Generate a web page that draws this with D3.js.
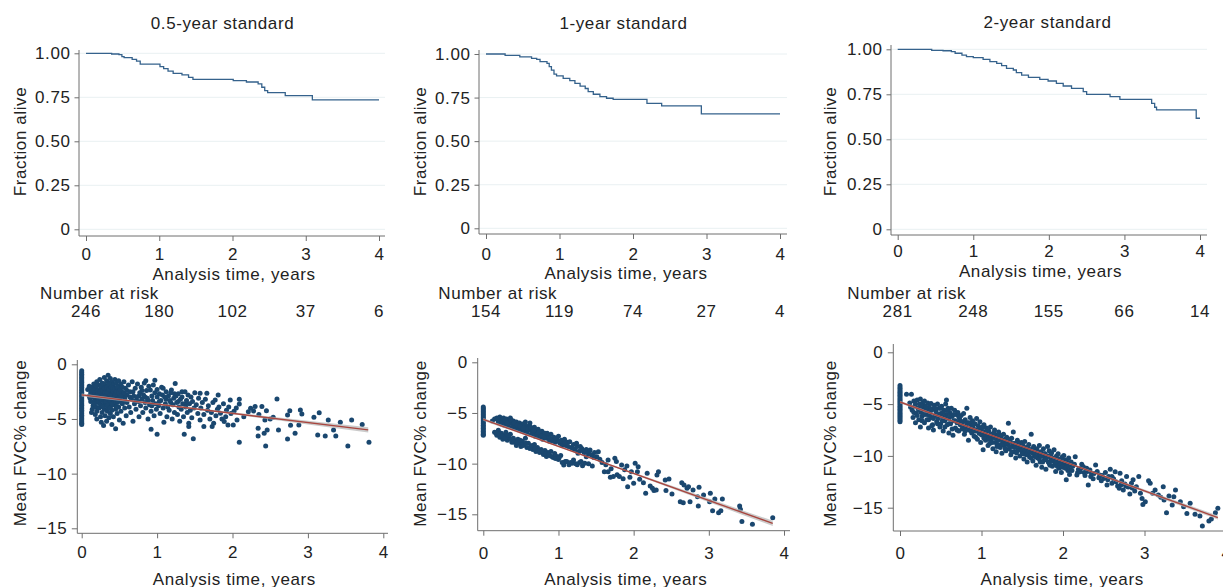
<!DOCTYPE html>
<html>
<head>
<meta charset="utf-8">
<script src="https://cdn.jsdelivr.net/npm/d3@7"></script>
<style>
  body { margin: 0; background: #fff; }
  svg text { font-family: "Liberation Sans", Arial, sans-serif; font-size: 17px; fill: #222; letter-spacing: 0.6px; }
</style>
</head>
<body>
<div id="my_dataviz"></div>
<script>
// ---- data ----
var titles = ["0.5-year standard", "1-year standard", "2-year standard"];
var xTicks = [0, 1, 2, 3, 4];
var kmTicks = [0, 0.25, 0.5, 0.75, 1];
var kmTickLabels = ["0", "0.25", "0.50", "0.75", "1.00"];
var fvcTicks = [0, -5, -10, -15];
var fvcTickLabels = ["0", "\u22125", "\u221210", "\u221215"];

// Kaplan-Meier steps (time, survival)
var kmTime1 = [0, 0.35, 0.45, 0.49, 0.52, 0.63, 0.69, 0.74, 1.01, 1.06, 1.12, 1.19, 1.31, 1.40, 1.46, 2.01, 2.19, 2.35, 2.40, 2.44, 2.48, 2.72, 3.09, 4.0];
var kmSurv1 = [1, 0.996, 0.992, 0.981, 0.975, 0.966, 0.956, 0.939, 0.924, 0.913, 0.899, 0.886, 0.877, 0.863, 0.852, 0.845, 0.837, 0.826, 0.807, 0.788, 0.776, 0.759, 0.735, 0.735];
var kmTime2 = [0, 0.26, 0.46, 0.62, 0.69, 0.735, 0.83, 0.86, 0.89, 0.925, 0.96, 1.05, 1.14, 1.21, 1.28, 1.35, 1.39, 1.46, 1.55, 1.64, 1.73, 2.19, 2.39, 2.93, 4.0];
var kmSurv2 = [1, 0.992, 0.983, 0.975, 0.969, 0.956, 0.946, 0.927, 0.908, 0.885, 0.874, 0.86, 0.847, 0.832, 0.816, 0.802, 0.784, 0.769, 0.755, 0.746, 0.74, 0.717, 0.702, 0.656, 0.656];
var kmTime3 = [0, 0.45, 0.60, 0.71, 0.76, 0.85, 0.91, 1.0, 1.13, 1.22, 1.31, 1.375, 1.44, 1.53, 1.57, 1.64, 1.73, 1.88, 1.99, 2.10, 2.19, 2.30, 2.455, 2.50, 2.81, 2.94, 3.36, 3.40, 3.425, 3.95, 4.0];
var kmSurv3 = [1, 0.994, 0.992, 0.987, 0.978, 0.968, 0.959, 0.954, 0.944, 0.931, 0.922, 0.909, 0.894, 0.885, 0.87, 0.857, 0.844, 0.833, 0.824, 0.811, 0.796, 0.783, 0.765, 0.75, 0.737, 0.722, 0.70, 0.678, 0.663, 0.617, 0.617];

// number at risk at years 0..4
var risk1 = [246, 180, 102, 37, 6];
var risk2 = [154, 119, 74, 27, 4];
var risk3 = [281, 248, 155, 66, 14];

// FVC values at time 0
var zero1 = [-0.6,-0.75,-0.9,-1.05,-1.2,-1.35,-1.5,-1.65,-1.8,-1.95,-2.1,-2.25,-2.4,-2.55,-2.7,-2.85,-3.0,-3.15,-3.3,-3.45,-3.6,-3.75,-3.9,-4.05,-4.2,-4.35,-4.5,-4.65,-4.8,-4.95,-5.1,-5.25,-5.4,-5.5];
var zero2 = [-4.4,-4.55,-4.7,-4.85,-5.0,-5.15,-5.3,-5.45,-5.6,-5.75,-5.9,-6.05,-6.2,-6.35,-6.5,-6.65,-6.8,-6.95,-7.1,-7.2];
var zero3 = [-3.2,-3.4,-3.55,-3.7,-3.85,-4.0,-4.15,-4.3,-4.45,-4.6,-4.75,-4.9,-5.05,-5.2,-5.35,-5.5,-5.65,-5.8,-5.95,-6.1,-6.25,-6.4,-6.55,-6.7];

// FVC% change scatter (time, value)
var fvc1 = [
  [0.08,-2.3],[0.1,-2.0],[0.1,-2.9],[0.12,-3.4],[0.12,-2.6],[0.14,-2.1],[0.14,-4.1],[0.15,-3.0],[0.15,-3.8],[0.13,-4.4],
  [0.16,-1.8],[0.17,-2.5],[0.17,-3.3],[0.18,-4.6],[0.18,-2.2],[0.19,-3.9],[0.19,-2.8],[0.2,-1.6],[0.2,-3.5],[0.2,-4.3],[0.2,-5.0],
  [0.21,-2.4],[0.22,-3.1],[0.22,-1.9],[0.23,-4.0],[0.23,-2.7],[0.24,-1.4],[0.24,-3.6],[0.25,-2.2],[0.25,-4.8],[0.25,-3.0],[0.26,-5.3],
  [0.26,-2.5],[0.27,-1.7],[0.27,-3.8],[0.27,-4.4],[0.28,-2.1],[0.28,-3.3],[0.29,-2.9],[0.29,-5.6],[0.3,-1.2],[0.3,-2.6],[0.3,-3.5],[0.3,-4.1],
  [0.31,-1.9],[0.31,-3.0],[0.31,-4.7],[0.32,-2.3],[0.32,-3.7],[0.33,-1.5],[0.33,-2.8],[0.33,-5.2],[0.34,-3.3],[0.34,-4.3],[0.35,-1.0],
  [0.35,-2.0],[0.35,-2.5],[0.35,-3.9],[0.36,-3.1],[0.36,-4.9],[0.37,-1.7],[0.37,-2.7],[0.37,-3.5],[0.38,-2.2],[0.38,-4.5],[0.38,-1.3],
  [0.39,-3.0],[0.39,-3.8],[0.4,-2.4],[0.4,-1.6],[0.4,-4.2],[0.4,-5.5],
  [0.41,-2.9],[0.41,-3.4],[0.42,-1.9],[0.42,-4.8],[0.43,-2.6],[0.43,-3.7],[0.44,-1.4],[0.44,-3.1],[0.45,-2.2],[0.45,-4.1],[0.45,-5.9],
  [0.46,-2.8],[0.46,-1.7],[0.47,-3.5],[0.47,-4.5],[0.48,-2.4],[0.48,-3.0],[0.49,-1.5],[0.49,-3.9],[0.5,-2.7],[0.5,-5.1],[0.5,-2.0],
  [0.51,-3.3],[0.52,-1.8],[0.52,-4.3],[0.53,-2.5],[0.54,-3.6],[0.55,-2.9],[0.55,-5.4],[0.56,-1.6],[0.57,-3.1],[0.57,-4.0],[0.58,-2.2],
  [0.59,-4.7],[0.6,-2.8],[0.6,-3.5],
  [0.11,-3.1],[0.13,-2.4],[0.16,-2.9],[0.16,-3.6],[0.18,-3.0],[0.19,-2.0],[0.21,-3.4],[0.22,-2.7],[0.23,-3.3],[0.24,-2.5],[0.26,-3.2],
  [0.26,-2.0],[0.27,-2.9],[0.28,-2.4],[0.28,-3.9],[0.29,-1.8],[0.29,-3.1],[0.3,-2.2],[0.31,-2.6],[0.32,-3.4],[0.32,-2.9],[0.33,-2.1],
  [0.34,-2.6],[0.34,-3.8],[0.35,-3.2],[0.36,-2.3],[0.36,-1.8],[0.37,-3.1],[0.37,-4.0],[0.38,-2.8],[0.38,-3.4],[0.39,-2.1],[0.4,-2.8],
  [0.4,-3.6],[0.41,-2.2],[0.42,-3.1],[0.42,-2.5],[0.43,-3.3],[0.44,-2.3],[0.44,-2.8],[0.45,-3.5],[0.46,-2.5],[0.46,-3.9],[0.47,-2.1],
  [0.48,-3.4],[0.49,-2.6],[0.5,-3.1],[0.51,-2.3],[0.52,-2.9],[0.53,-3.5],[0.54,-2.1],[0.56,-2.6],[0.58,-3.4],[0.6,-2.4],[0.64,-3.0],
  [0.68,-2.5],[0.72,-3.3],[0.76,-2.9],[0.8,-2.4],[0.84,-3.0],[0.88,-3.3],[0.93,-3.8],[1.03,-3.4],[1.07,-2.8],[1.12,-3.2],[1.18,-3.5],
  [1.23,-2.7],[1.28,-3.4],[1.33,-3.0],[1.38,-3.6],
  [0.62,-1.9],[0.63,-3.9],[0.64,-2.5],[0.65,-4.4],[0.66,-3.2],[0.67,-1.6],[0.68,-5.2],[0.69,-2.9],[0.7,-3.6],[0.71,-2.2],[0.72,-4.1],
  [0.73,-3.0],[0.74,-1.8],[0.75,-3.4],[0.76,-4.8],[0.77,-2.6],[0.78,-3.8],[0.79,-2.1],[0.8,-3.2],[0.81,-4.4],[0.82,-2.8],[0.83,-1.7],
  [0.84,-3.5],[0.85,-1.5],[0.85,-4.0],[0.86,-2.4],[0.87,-3.1],[0.88,-5.0],[0.89,-2.0],[0.9,-3.7],[0.91,-2.35],[0.92,-4.3],[0.92,-5.95],
  [0.93,-2.9],[0.94,-3.3],[0.95,-1.9],[0.96,-4.7],[0.97,-1.45],[0.97,-2.6],[0.98,-3.6],[0.99,-4.1],[1.0,-2.3],[1.0,-6.4],[1.0,-3.0],
  [1.02,-3.8],[1.03,-2.7],[1.04,-4.5],[1.05,-3.3],[1.06,-2.1],[1.08,-2.2],[1.08,-4.0],[1.09,-5.3],[1.1,-3.0],[1.11,-3.6],[1.12,-2.5],
  [1.13,-4.8],[1.14,-3.9],[1.15,-2.9],[1.16,-4.2],[1.17,-3.3],[1.18,-2.6],[1.19,-2.35],[1.2,-5.0],[1.21,-3.7],[1.22,-3.1],[1.23,-4.4],
  [1.24,-1.75],[1.25,-2.9],[1.26,-3.5],[1.27,-4.6],[1.28,-2.7],[1.29,-3.9],[1.3,-5.2],[1.31,-3.2],[1.32,-4.1],[1.33,-2.5],[1.34,-3.6],
  [1.35,-4.8],[1.36,-6.4],[1.37,-2.5],[1.38,-3.9],[1.39,-3.3],[1.4,-4.4],[1.41,-2.8],[1.42,-5.4],[1.42,-5.7],[1.43,-3.6],[1.44,-4.2],
  [1.45,-3.0],[1.46,-4.9],[1.47,-3.4],[1.48,-6.8],[1.49,-4.0],[1.5,-2.6],
  [1.52,-3.7],[1.54,-4.5],[1.55,-3.1],[1.57,-2.65],[1.57,-5.1],[1.58,-4.0],[1.6,-3.5],[1.62,-5.7],[1.62,-4.6],[1.64,-3.2],[1.66,-2.65],
  [1.67,-4.2],[1.68,-3.8],[1.7,-5.0],[1.72,-4.4],[1.73,-5.7],[1.74,-3.5],[1.75,-5.4],[1.77,-3.26],[1.78,-4.7],[1.8,-4.1],[1.81,-2.8],
  [1.82,-3.9],[1.84,-4.48],[1.86,-5.0],[1.88,-3.6],[1.89,-5.24],[1.91,-4.8],[1.92,-4.2],[1.94,-5.55],[1.95,-3.9],[1.97,-3.26],[1.98,-4.5],
  [2.01,-5.55],[2.02,-4.3],[2.05,-4.0],[2.06,-5.1],[2.09,-3.2],[2.09,-3.63],[2.09,-7.13],
  [2.15,-4.8],[2.21,-4.33],[2.24,-4.02],[2.28,-4.27],[2.3,-3.87],[2.34,-5.85],[2.34,-6.55],[2.35,-4.6],[2.39,-3.87],[2.42,-6.3],[2.43,-5.1],
  [2.44,-7.47],[2.45,-4.24],[2.46,-6.0],[2.5,-5.0],[2.54,-4.85],[2.59,-3.17],[2.61,-6.0],[2.73,-4.63],[2.73,-6.83],[2.76,-4.24],[2.77,-5.58],
  [2.83,-6.3],[2.88,-5.55],[2.9,-4.18],[2.92,-4.54],[3.08,-4.85],[3.13,-6.46],[3.15,-4.42],[3.23,-6.55],[3.27,-5.1],[3.34,-6.0],[3.37,-6.55],
  [3.43,-5.3],[3.53,-7.47],[3.58,-5.1],[3.72,-5.5],[3.81,-7.13]
];
var fvc2 = [
  [0.12,-5.8],[0.15,-5.6],[0.18,-5.5],[0.2,-5.9],[0.22,-5.4],[0.24,-6.1],[0.25,-5.7],[0.27,-5.5],[0.28,-6.2],[0.3,-5.9],[0.31,-5.6],
  [0.33,-6.3],[0.34,-5.8],[0.35,-6.0],[0.36,-5.5],[0.38,-6.4],[0.39,-6.1],[0.4,-5.8],[0.42,-6.5],[0.43,-6.2],[0.44,-5.9],[0.46,-6.6],
  [0.47,-6.3],[0.48,-6.0],[0.5,-6.7],[0.51,-6.4],[0.52,-6.1],[0.54,-6.8],[0.55,-6.2],[0.56,-5.9],[0.57,-6.5],[0.58,-7.0],[0.6,-6.3],
  [0.61,-6.7],[0.62,-6.0],[0.64,-7.1],[0.65,-6.5],[0.66,-6.9],[0.68,-6.4],[0.69,-7.3],[0.7,-6.8],[0.72,-7.0],[0.73,-6.6],[0.75,-7.4],
  [0.76,-7.1],[0.78,-6.8],[0.79,-7.6],[0.8,-7.2],[0.82,-7.0],[0.84,-7.5],[0.86,-7.3],[0.88,-7.8],[0.9,-7.1],[0.92,-7.6],[0.94,-7.4],
  [0.96,-7.9],[0.98,-7.6],[1.0,-7.3],[1.02,-8.0],[1.04,-7.7],[1.06,-7.99],[1.08,-7.6],[1.1,-8.2],[1.12,-7.9],[1.15,-7.83],[1.17,-8.4],
  [1.2,-8.1],[1.22,-8.6],[1.25,-8.3],[1.27,-8.8],[1.29,-8.32],[1.31,-8.5],[1.34,-8.9],[1.37,-8.6],[1.4,-9.0],[1.42,-8.65],[1.45,-9.2],
  [1.48,-8.9],[1.51,-9.31],[1.53,-8.82],[1.55,-9.57],
  [0.2,-5.6],[0.26,-5.9],[0.29,-5.7],[0.32,-6.0],[0.37,-5.7],[0.41,-6.0],[0.45,-6.2],[0.49,-6.3],[0.53,-6.5],[0.59,-6.6],[0.63,-6.4],
  [0.67,-6.7],[0.71,-7.2],[0.74,-6.9],[0.77,-7.3],[0.81,-7.4],[0.85,-7.0],[0.89,-7.5],[0.93,-7.8],[0.97,-7.5],[1.01,-7.8],[1.05,-8.2],
  [1.09,-8.0],[1.13,-8.3],[1.19,-8.5],[1.24,-8.0],[1.3,-8.7],[1.36,-8.8],[1.43,-9.1],[1.47,-9.4],
  [0.15,-6.9],[0.18,-7.2],[0.2,-6.7],[0.22,-7.4],[0.24,-7.0],[0.26,-7.6],[0.28,-7.2],[0.3,-6.9],[0.32,-7.7],[0.34,-7.4],[0.36,-7.1],
  [0.38,-7.9],[0.4,-7.5],[0.42,-7.8],[0.44,-8.2],[0.46,-7.6],[0.48,-8.0],[0.5,-8.3],[0.52,-7.8],[0.54,-8.1],[0.56,-7.5],[0.58,-8.4],
  [0.6,-8.0],[0.63,-8.3],[0.66,-8.6],[0.68,-8.1],[0.7,-8.8],[0.72,-8.4],[0.75,-8.9],[0.77,-8.6],[0.8,-9.1],[0.82,-8.7],[0.84,-9.3],
  [0.86,-8.9],[0.88,-9.2],[0.9,-8.8],[0.93,-9.4],[0.95,-9.0],[0.98,-9.3],[1.0,-9.6],[1.03,-9.2],[1.07,-10.13],[1.09,-9.8],[1.11,-9.8],
  [1.14,-10.1],[1.18,-9.97],[1.2,-9.64],[1.23,-10.0],[1.26,-8.98],[1.28,-9.9],[1.32,-10.2],[1.35,-9.97],[1.37,-9.31],[1.4,-10.0],[1.45,-10.23],
  [0.17,-7.0],[0.21,-7.1],[0.25,-7.3],[0.29,-7.5],[0.33,-7.2],[0.37,-7.6],[0.41,-7.9],[0.45,-7.9],[0.49,-7.7],[0.53,-8.2],[0.57,-8.0],
  [0.62,-8.5],[0.65,-8.2],[0.69,-8.5],[0.73,-8.7],[0.78,-8.8],[0.83,-9.0],[0.87,-9.1],[0.91,-9.3],[0.96,-9.5],[1.01,-9.4],[1.05,-9.9],
  [1.16,-9.9],[1.25,-10.1],[1.3,-9.8],
  [1.58,-9.9],[1.63,-10.1],[1.7,-10.5],[1.78,-11.1],[1.86,-11.5],[1.88,-10.6],[1.97,-10.8],
  [1.61,-10.79],[1.66,-9.64],[1.66,-10.79],[1.69,-11.35],[1.73,-11.28],[1.75,-9.47],[1.77,-9.8],[1.81,-11.28],[1.84,-10.13],[1.91,-10.23],
  [1.92,-12.27],[1.95,-11.35],[2.0,-11.94],[2.02,-9.97],[2.05,-10.79],[2.06,-10.3],[2.08,-11.55],[2.13,-11.88],[2.16,-12.93],[2.18,-10.95],
  [2.22,-12.2],[2.25,-12.43],[2.27,-12.66],[2.3,-12.6],[2.31,-11.12],[2.33,-10.79],[2.42,-11.61],[2.43,-12.66],[2.47,-11.51],[2.51,-12.99],
  [2.62,-13.75],[2.64,-11.88],[2.66,-13.85],[2.67,-12.1],[2.71,-12.43],[2.73,-12.27],[2.75,-13.75],[2.79,-12.6],[2.85,-13.26],[2.86,-14.18],
  [2.87,-12.34],[2.93,-13.09],[3.01,-13.75],[3.02,-12.93],[3.05,-14.64],[3.08,-13.49],[3.13,-14.84],[3.16,-14.64],[3.18,-13.49],
  [3.41,-14.18],[3.42,-14.5],[3.44,-15.72],[3.58,-15.99],[3.85,-15.33]
];
var fvc3 = [
  [0.08,-4.05],[0.12,-4.9],[0.14,-4.05],[0.15,-5.6],[0.16,-6.3],[0.17,-4.7],[0.18,-5.2],[0.19,-6.8],[0.2,-5.9],[0.21,-4.6],[0.22,-5.4],
  [0.23,-6.5],[0.24,-5.0],[0.25,-4.5],[0.25,-7.2],[0.26,-5.8],[0.27,-6.2],[0.28,-4.9],[0.29,-5.5],[0.3,-6.8],[0.3,-4.7],
  [0.31,-5.2],[0.32,-6.0],[0.33,-5.6],[0.34,-4.9],[0.35,-6.5],[0.35,-7.3],[0.36,-5.3],[0.37,-5.9],[0.38,-4.95],[0.39,-6.3],[0.4,-5.5],
  [0.4,-7.0],[0.41,-7.5],[0.42,-5.1],[0.43,-6.1],[0.44,-5.7],[0.45,-6.7],[0.46,-5.0],[0.47,-6.4],[0.48,-5.4],[0.49,-7.2],[0.5,-5.9],
  [0.5,-6.9],[0.51,-5.2],[0.52,-6.2],[0.53,-7.6],[0.54,-5.6],[0.55,-6.6],[0.56,-5.0],[0.57,-4.6],[0.57,-6.0],[0.58,-7.0],[0.59,-5.4],
  [0.6,-6.4],[0.6,-7.8],
  [0.61,-5.8],[0.62,-6.9],[0.63,-5.4],[0.64,-6.2],[0.65,-8.0],[0.66,-6.6],[0.67,-5.6],[0.68,-7.3],[0.69,-6.0],[0.7,-6.8],[0.71,-5.8],
  [0.72,-7.6],[0.73,-6.4],[0.74,-7.0],[0.75,-6.1],[0.76,-7.4],[0.77,-6.7],[0.78,-5.9],[0.79,-7.9],[0.8,-6.5],[0.81,-7.2],[0.82,-5.4],
  [0.83,-6.8],[0.84,-8.5],[0.85,-7.5],[0.86,-6.3],[0.87,-7.0],[0.88,-7.8],[0.89,-6.6],[0.9,-7.3],
  [0.91,-8.1],[0.92,-6.9],[0.93,-7.6],[0.94,-6.4],[0.95,-8.4],[0.96,-7.1],[0.97,-7.8],[0.98,-6.7],[0.99,-8.7],[1.0,-7.4],[1.01,-8.0],
  [1.02,-9.4],[1.03,-7.0],[1.04,-7.7],[1.05,-8.5],[1.06,-7.3],[1.07,-8.2],[1.08,-9.0],[1.09,-7.6],[1.1,-8.8],[1.11,-7.2],[1.12,-8.4],
  [1.13,-7.9],[1.14,-9.3],[1.15,-8.1],[1.16,-7.5],[1.17,-8.7],[1.18,-9.6],[1.19,-8.0],[1.2,-8.9],
  [1.21,-7.7],[1.22,-8.4],[1.23,-9.2],[1.24,-8.1],[1.25,-9.75],[1.26,-8.7],[1.27,-7.9],[1.28,-9.0],[1.29,-8.4],[1.3,-9.5],[1.31,-8.2],
  [1.32,-8.9],[1.33,-6.85],[1.34,-9.3],[1.35,-8.6],[1.36,-9.9],[1.37,-8.3],[1.38,-9.1],[1.39,-7.7],[1.4,-9.6],[1.41,-8.8],[1.42,-10.2],
  [1.43,-9.0],[1.44,-8.5],[1.45,-9.4],[1.46,-8.9],[1.47,-10.0],[1.48,-9.2],[1.49,-8.7],[1.5,-9.7],
  [1.51,-9.0],[1.52,-10.3],[1.53,-8.6],[1.54,-9.5],[1.55,-9.2],[1.56,-10.6],[1.57,-9.8],[1.58,-8.9],[1.59,-10.1],[1.6,-9.4],[1.61,-7.9],
  [1.62,-9.7],[1.63,-10.5],[1.64,-9.1],[1.65,-10.0],[1.66,-9.5],[1.67,-10.9],[1.68,-9.3],[1.69,-10.2],[1.7,-9.8],[1.71,-9.0],[1.72,-10.6],
  [1.73,-9.6],[1.74,-11.1],[1.75,-10.0],[1.76,-9.3],[1.77,-10.4],[1.78,-9.8],[1.79,-11.3],[1.8,-10.1],
  [1.81,-9.1],[1.82,-10.6],[1.83,-9.5],[1.84,-10.9],[1.85,-10.2],[1.86,-9.7],[1.87,-11.0],[1.88,-10.4],[1.89,-9.4],[1.9,-10.8],[1.91,-11.5],
  [1.92,-10.0],[1.93,-10.6],[1.94,-9.8],[1.95,-11.2],[1.96,-10.3],[1.97,-10.9],[1.98,-11.6],[1.99,-10.1],[2.0,-10.7],[2.01,-9.95],
  [2.02,-11.1],[2.03,-10.4],[2.04,-12.3],[2.05,-10.9],[2.06,-11.4],[2.07,-10.2],[2.08,-11.8],[2.09,-11.36],[2.1,-10.6],
  [0.13,-5.3],[0.17,-5.8],[0.19,-5.0],[0.21,-6.1],[0.23,-5.6],[0.26,-5.2],[0.27,-6.6],[0.29,-6.0],[0.32,-5.3],[0.33,-6.5],[0.36,-6.1],
  [0.38,-5.6],[0.39,-7.1],[0.41,-6.4],[0.43,-5.4],[0.45,-5.9],[0.46,-6.9],[0.48,-6.1],[0.5,-5.4],[0.52,-6.6],[0.53,-5.8],[0.55,-7.2],
  [0.56,-6.3],[0.58,-5.6],[0.6,-6.9],[0.62,-6.1],[0.64,-7.4],[0.66,-6.0],[0.68,-6.6],[0.7,-7.5],[0.72,-6.2],[0.74,-6.6],[0.76,-6.9],
  [0.78,-7.2],[0.8,-7.6],[0.82,-6.9],[0.85,-6.8],[0.87,-7.6],[0.89,-7.1],[0.91,-7.6],[0.93,-8.2],[0.95,-7.5],[0.97,-7.3],[0.99,-7.9],
  [1.01,-7.2],[1.03,-8.3],[1.05,-7.9],[1.07,-7.6],[1.09,-8.4],[1.11,-8.0],[1.13,-8.7],[1.15,-7.8],[1.17,-8.3],[1.19,-9.1],[1.21,-8.5],
  [1.23,-8.0],[1.25,-8.9],[1.27,-8.5],[1.29,-9.3],[1.31,-8.8],[1.33,-8.4],[1.35,-9.1],[1.37,-9.6],[1.39,-8.8],[1.41,-9.2],[1.43,-9.7],
  [1.45,-8.7],[1.47,-9.1],[1.49,-9.5],[1.51,-9.8],[1.53,-9.4],[1.55,-9.9],[1.57,-9.2],[1.59,-9.6],[1.61,-10.2],[1.63,-9.3],[1.65,-9.7],
  [1.67,-10.1],[1.69,-9.6],[1.71,-10.3],[1.73,-10.0],[1.75,-10.6],[1.77,-9.8],[1.79,-10.3],[1.81,-10.0],[1.83,-10.7],[1.85,-9.9],
  [1.87,-10.5],[1.89,-10.2],[1.91,-10.6],[1.93,-11.0],[1.95,-10.4],[1.97,-10.7],[1.99,-11.1],[2.01,-10.5],[2.03,-11.2],[2.05,-10.6],
  [2.07,-11.0],[2.11,-11.4],[2.14,-10.8],[2.18,-11.6],[2.22,-11.2],[2.26,-11.6],[2.3,-11.5],[2.34,-12.0],[2.38,-11.7],[2.44,-12.1],
  [2.48,-11.9],[2.55,-12.3],[2.6,-12.0],[2.65,-12.5],[2.71,-12.8],[2.77,-12.9],[2.85,-13.1],
  [2.12,-11.0],[2.15,-10.07],[2.17,-11.84],[2.19,-11.3],[2.21,-11.52],[2.23,-10.8],[2.25,-11.04],[2.27,-11.9],[2.29,-11.2],[2.31,-12.81],
  [2.33,-11.36],[2.35,-11.7],[2.37,-12.2],[2.4,-10.88],[2.42,-11.5],[2.45,-11.84],[2.47,-12.4],[2.5,-12.17],[2.52,-11.6],[2.54,-12.8],
  [2.56,-12.0],[2.58,-11.3],[2.6,-12.65],[2.62,-12.2],[2.64,-11.52],[2.67,-12.9],[2.69,-13.13],[2.7,-11.68],[2.72,-12.4],[2.74,-13.3],
  [2.76,-12.71],[2.78,-12.0],[2.8,-13.0],[2.82,-13.68],[2.84,-12.65],[2.86,-12.3],[2.88,-13.4],[2.9,-12.97],[2.93,-12.0],[2.95,-13.6],
  [2.97,-14.1],[2.98,-14.68],
  [3.01,-14.42],[3.05,-12.39],[3.07,-12.65],[3.1,-13.6],[3.13,-13.29],[3.17,-13.78],[3.2,-14.0],[3.23,-12.97],[3.24,-14.26],[3.27,-15.48],
  [3.3,-13.87],[3.34,-14.74],[3.36,-13.94],[3.38,-13.29],[3.44,-14.42],[3.48,-14.9],[3.52,-15.55],[3.56,-14.58],[3.62,-15.64],[3.68,-15.8],
  [3.71,-16.77],[3.79,-16.29],[3.82,-16.09],[3.87,-15.48],[3.9,-15.06]
];

// linear fit: end points and CI half-width at x = 0,1,2,3,end
var fitX1 = [0, 3.8],  fitY1 = [-2.8, -6.0],   ciHalf1 = [0.14, 0.07, 0.09, 0.17, 0.24];
var fitX2 = [0, 3.85], fitY2 = [-5.63, -15.9], ciHalf2 = [0.14, 0.07, 0.09, 0.18, 0.26];
var fitX3 = [0, 3.9],  fitY3 = [-4.8, -15.95], ciHalf3 = [0.12, 0.06, 0.07, 0.13, 0.2];

// ---- layout (pixels) ----
var kmLayout = [
  {ax: 79,  right: 385,  top: 50, bot: 236, xr: [86, 379],     yr: [229.3, 53.3], title: [222.5, 29],  tickBase: 259.5, xTitle: [234, 280],  narX: 40,    ylab: [26, 141.5]},
  {ax: 479, right: 787,  top: 50, bot: 234, xr: [486, 780],    yr: [228.3, 54],   title: [623.5, 29],  tickBase: 259.5, xTitle: [626, 278.5], narX: 438.3, ylab: [426, 141.5]},
  {ax: 891, right: 1207, top: 45, bot: 235, xr: [897.7, 1200], yr: [229.3, 49.3], title: [1047.5, 28], tickBase: 257,   xTitle: [1040.5, 277], narX: 847.3, ylab: [836, 141.5]}
];
var scLayout = [
  {ax: 77.3,  right: 388,  top: 360, bot: 533.3, xr: [81.7, 383.3], yr: [528.3, 364.3], tickBase: 558.3, xTitle: [234.3, 584.5],  ylab: [26, 443]},
  {ax: 477.7, right: 790,  top: 358, bot: 530.7, xr: [483.3, 784],  yr: [514.3, 362.3], tickBase: 559,   xTitle: [625.8, 584.5],  ylab: [426, 443.5]},
  {ax: 893.3, right: 1230, top: 344, bot: 531,   xr: [900, 1226],   yr: [507.7, 352.3], tickBase: 559,   xTitle: [1062.2, 584.5], ylab: [836, 443.5]}
];

var navy = "#1a476f";

var svg = d3.select("#my_dataviz")
  .append("svg")
    .attr("width", 1223)
    .attr("height", 587);

function styleAxis(g) {
  g.attr("font-size", null).attr("font-family", null).attr("color", "#6e6e6e");
  g.selectAll(".tick line").attr("stroke-width", 1);
}

// Kaplan-Meier panels
var kmTimes = [kmTime1, kmTime2, kmTime3];
var kmSurvs = [kmSurv1, kmSurv2, kmSurv3];
var risks = [risk1, risk2, risk3];

kmLayout.forEach(function(L, i) {
  var x = d3.scaleLinear().domain([0, 4]).range(L.xr);
  var y = d3.scaleLinear().domain([0, 1]).range(L.yr);
  var g = svg.append("g");

  // light grid
  g.selectAll(".grid").data(kmTicks).join("line")
    .attr("x1", L.ax).attr("x2", L.right)
    .attr("y1", d => y(d)).attr("y2", d => y(d))
    .attr("stroke", "#e9f0f2").attr("stroke-width", 1);

  var yAxis = g.append("g")
    .attr("transform", "translate(" + L.ax + ",0)")
    .call(d3.axisLeft(y).tickValues(kmTicks).tickFormat((d, j) => kmTickLabels[j]).tickSize(4.5).tickPadding(4));
  yAxis.select(".domain").attr("d", "M0," + L.top + "V" + L.bot);
  styleAxis(yAxis);

  var xAxis = g.append("g")
    .attr("transform", "translate(0," + L.bot + ")")
    .call(d3.axisBottom(x).tickValues(xTicks).tickFormat(d3.format("d")).tickSize(5));
  xAxis.select(".domain").attr("d", "M" + L.ax + ",0H" + L.right);
  xAxis.selectAll("text").attr("dy", null).attr("y", L.tickBase - L.bot);
  styleAxis(xAxis);

  var steps = kmTimes[i].map((t, j) => [t, kmSurvs[i][j]]);
  g.append("path")
    .datum(steps)
    .attr("fill", "none")
    .attr("stroke", "#35628c")
    .attr("stroke-width", 1.3)
    .attr("d", d3.line().curve(d3.curveStepAfter).x(d => x(d[0])).y(d => y(d[1])));

  g.append("text").attr("x", L.title[0]).attr("y", L.title[1])
    .attr("text-anchor", "middle").text(titles[i]);
  g.append("text").attr("x", L.xTitle[0]).attr("y", L.xTitle[1])
    .attr("text-anchor", "middle").text("Analysis time, years");
  g.append("text")
    .attr("transform", "translate(" + L.ylab[0] + "," + L.ylab[1] + ") rotate(-90)")
    .attr("text-anchor", "middle").text("Fraction alive");

  g.append("text").attr("x", L.narX).attr("y", 298.5).text("Number at risk");
  g.selectAll(".risk").data(risks[i]).join("text")
    .attr("x", (d, j) => x(xTicks[j]))
    .attr("y", 316.5)
    .attr("text-anchor", "middle")
    .text(d => d);
});

// FVC scatter panels
var zeros = [zero1, zero2, zero3];
var fvcs = [fvc1, fvc2, fvc3];
var fitXs = [fitX1, fitX2, fitX3], fitYs = [fitY1, fitY2, fitY3], ciHalfs = [ciHalf1, ciHalf2, ciHalf3];

scLayout.forEach(function(L, i) {
  var x = d3.scaleLinear().domain([0, 4]).range(L.xr);
  var y = d3.scaleLinear().domain([-15, 0]).range(L.yr);
  var g = svg.append("g");

  var yAxis = g.append("g")
    .attr("transform", "translate(" + L.ax + ",0)")
    .call(d3.axisLeft(y).tickValues(fvcTicks).tickFormat((d, j) => fvcTickLabels[j]).tickSize(5.5).tickPadding(4.5));
  yAxis.select(".domain").attr("d", "M0," + L.top + "V" + L.bot);
  styleAxis(yAxis);

  var xAxis = g.append("g")
    .attr("transform", "translate(0," + L.bot + ")")
    .call(d3.axisBottom(x).tickValues(xTicks).tickFormat(d3.format("d")).tickSize(5));
  xAxis.select(".domain").attr("d", "M" + L.ax + ",0H" + L.right);
  xAxis.selectAll("text").attr("dy", null).attr("y", L.tickBase - L.bot);
  styleAxis(xAxis);

  var pts = zeros[i].map(v => [0, v]).concat(fvcs[i]);
  g.selectAll(".dot").data(pts).join("circle")
    .attr("cx", d => x(d[0]))
    .attr("cy", d => y(d[1]))
    .attr("r", 2.5)
    .attr("fill", navy);

  // fitted line with its confidence band
  var fx = fitXs[i], fy = fitYs[i];
  var fit = d3.scaleLinear().domain(fx).range(fy);
  var ciX = [0, 1, 2, 3, fx[1]];
  var band = ciX.map((t, j) => [t, fit(t) - ciHalfs[i][j], fit(t) + ciHalfs[i][j]]);
  g.append("path")
    .datum(band)
    .attr("fill", "#b9b9b9")
    .attr("fill-opacity", 0.75)
    .attr("d", d3.area().curve(d3.curveMonotoneX).x(d => x(d[0])).y0(d => y(d[1])).y1(d => y(d[2])));
  g.append("path")
    .datum(fx.map((t, j) => [t, fy[j]]))
    .attr("fill", "none")
    .attr("stroke", "#a8463f")
    .attr("stroke-width", 1.4)
    .attr("d", d3.line().x(d => x(d[0])).y(d => y(d[1])));

  g.append("text").attr("x", L.xTitle[0]).attr("y", L.xTitle[1])
    .attr("text-anchor", "middle").text("Analysis time, years");
  g.append("text")
    .attr("transform", "translate(" + L.ylab[0] + "," + L.ylab[1] + ") rotate(-90)")
    .attr("text-anchor", "middle").text("Mean FVC% change");
});
</script>
</body>
</html>
